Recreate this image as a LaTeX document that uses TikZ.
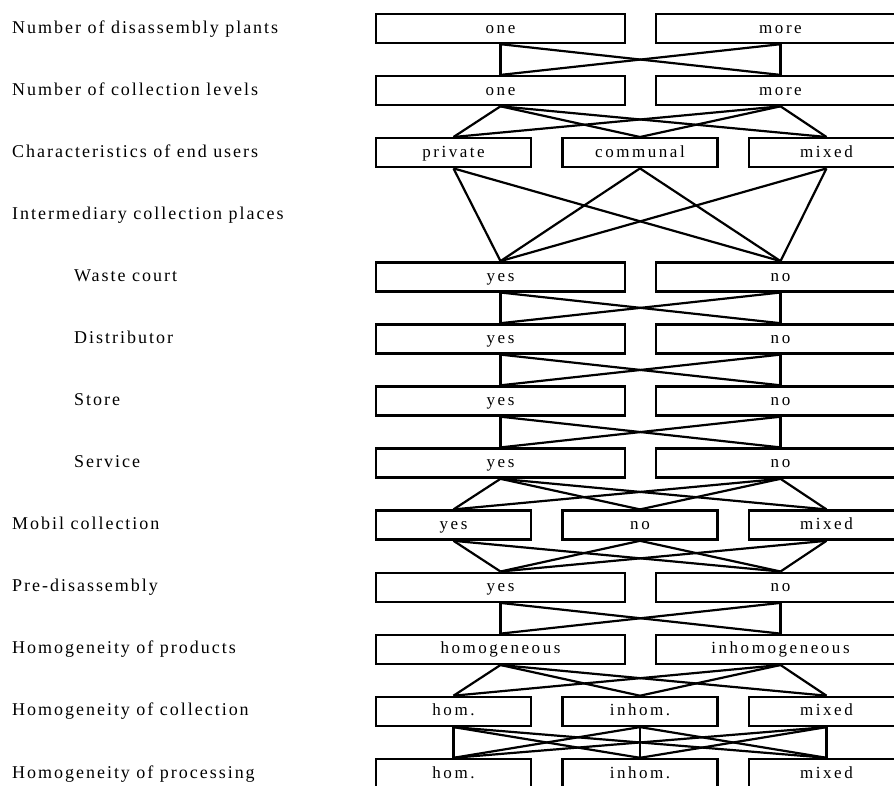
\documentclass[tikz,border=0pt]{standalone}
\usepackage{fontspec}
\setmainfont{Liberation Serif}
\newfontfamily\labfont[LetterSpace=11]{Liberation Serif}
\newfontfamily\boxfont[LetterSpace=15]{Liberation Serif}
\begin{document}
\begin{tikzpicture}[x=1pt,y=-1pt,
  opt/.style={draw,line width=2.4pt,inner sep=0pt,minimum height=29pt,text height=12pt,text depth=3pt,font=\boxfont\fontsize{17}{17}\selectfont},
  wide/.style={opt,minimum width=249pt},
  narrow/.style={opt,minimum width=155pt},
  lab/.style={anchor=west,inner sep=0pt,text height=12pt,text depth=3pt,font=\labfont\fontsize{18}{18}\selectfont},
  link/.style={line width=2.2pt}]
\useasboundingbox (0,0) rectangle (894,785);
\clip (0,0) rectangle (894,785);
% labels
\node[lab] (l0) at (12,28.5) {Number of disassembly plants};
\node[lab] (l1) at (12,90.6) {Number of collection levels};
\node[lab] (l2) at (12,152.7) {Characteristics of end users};
\node[lab] (l3) at (12,214.7) {Intermediary collection places};
\node[lab] (l4) at (74,276.8) {Waste court};
\node[lab] (l5) at (74,338.9) {Distributor};
\node[lab] (l6) at (74,401) {Store};
\node[lab] (l7) at (74,463.1) {Service};
\node[lab] (l8) at (12,525.1) {Mobil collection};
\node[lab] (l9) at (12,587.2) {Pre-disassembly};
\node[lab] (l10) at (12,649.3) {Homogeneity of products};
\node[lab] (l11) at (12,711.4) {Homogeneity of collection};
\node[lab] (l12) at (12,773.5) {Homogeneity of processing};
% boxes
\node[wide] (r0a) at (500.5,28.5) {one};
\node[wide] (r0b) at (780.5,28.5) {more};
\node[wide] (r1a) at (500.5,90.6) {one};
\node[wide] (r1b) at (780.5,90.6) {more};
\node[narrow] (r2a) at (453.5,152.7) {private};
\node[narrow] (r2b) at (640,152.7) {communal};
\node[narrow] (r2c) at (826.5,152.7) {mixed};
\node[wide] (r4a) at (500.5,276.8) {yes};
\node[wide] (r4b) at (780.5,276.8) {no};
\node[wide] (r5a) at (500.5,338.9) {yes};
\node[wide] (r5b) at (780.5,338.9) {no};
\node[wide] (r6a) at (500.5,401) {yes};
\node[wide] (r6b) at (780.5,401) {no};
\node[wide] (r7a) at (500.5,463.1) {yes};
\node[wide] (r7b) at (780.5,463.1) {no};
\node[narrow] (r8a) at (453.5,525.1) {yes};
\node[narrow] (r8b) at (640,525.1) {no};
\node[narrow] (r8c) at (826.5,525.1) {mixed};
\node[wide] (r9a) at (500.5,587.2) {yes};
\node[wide] (r9b) at (780.5,587.2) {no};
\node[wide] (r10a) at (500.5,649.3) {homogeneous};
\node[wide] (r10b) at (780.5,649.3) {inhomogeneous};
\node[narrow] (r11a) at (453.5,711.4) {hom.};
\node[narrow] (r11b) at (640,711.4) {inhom.};
\node[narrow] (r11c) at (826.5,711.4) {mixed};
\node[narrow] (r12a) at (453.5,773.5) {hom.};
\node[narrow] (r12b) at (640,773.5) {inhom.};
\node[narrow] (r12c) at (826.5,773.5) {mixed};
% connectors
\foreach \up/\down in {r0/r1,r4/r5,r5/r6,r6/r7,r9/r10}
  \foreach \i in {a,b}
    \foreach \j in {a,b}
      \draw[link] (\up\i.south) -- (\down\j.north);
\foreach \up/\down in {r1/r2,r7/r8,r10/r11}
  \foreach \i in {a,b}
    \foreach \j in {a,b,c}
      \draw[link] (\up\i.south) -- (\down\j.north);
\foreach \up/\down in {r2/r4,r8/r9}
  \foreach \i in {a,b,c}
    \foreach \j in {a,b}
      \draw[link] (\up\i.south) -- (\down\j.north);
\foreach \i in {a,b,c}
  \foreach \j in {a,b,c}
    \draw[link] (r11\i.south) -- (r12\j.north);
\end{tikzpicture}
\end{document}
